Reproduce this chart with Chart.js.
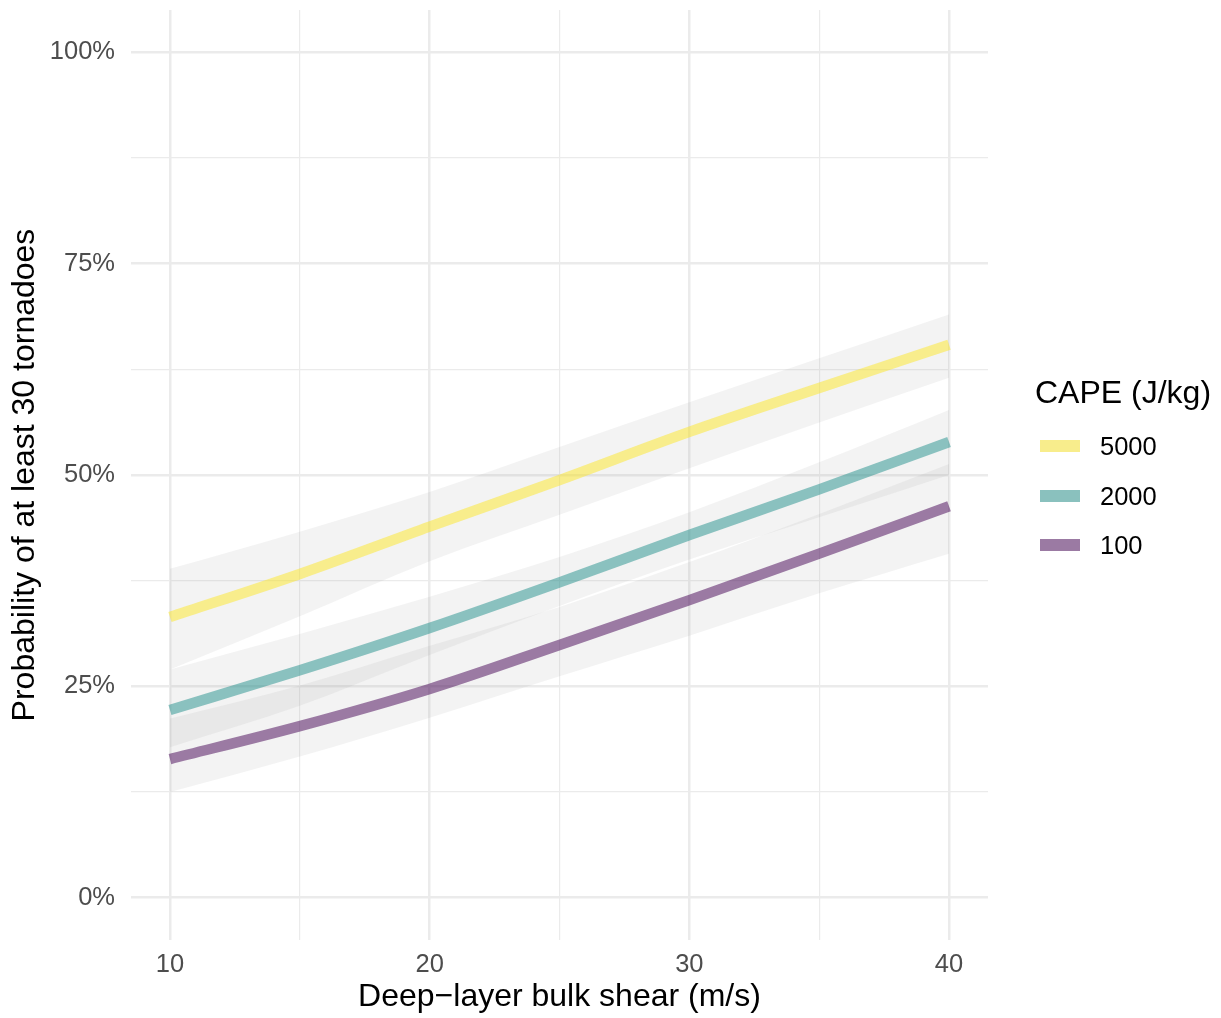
<!DOCTYPE html>
<html>
<head>
<meta charset="utf-8">
<script src="https://cdn.jsdelivr.net/npm/chart.js@4/dist/chart.umd.min.js"></script>
<style>
  html, body { margin: 0; padding: 0; background: #fff; }
  #wrap { position: relative; width: 1221px; height: 1018px; font-family: "Liberation Sans", Arial, sans-serif; }
  canvas { position: absolute; left: 0; top: 0; }
  #legend { position: absolute; left: 1035px; top: 372px; }
  #legend .title { font-size: 32px; color: #000; line-height: 40px; margin-bottom: 26px; }
  #legend .row { position: relative; height: 49.5px; }
  #legend .key { position: absolute; left: 5px; top: 2px; width: 40px; height: 12px; }
  #legend .lab { position: absolute; left: 65px; top: -7px; font-size: 25.5px; color: #000; line-height: 30px; }
</style>
</head>
<body>
<div id="wrap">
  <canvas id="c" width="1221" height="1018"></canvas>
  <div id="legend"></div>
</div>
<script>
// ---- data ----
const shear = [10, 15, 20, 25, 30, 35, 40];
const capeLevels = ["5000", "2000", "100"];
const prob5000 = [33.2, 38.3, 43.9, 49.4, 55.1, 60.3, 65.4];
const lo5000   = [27.0, 33.3, 39.8, 45.3, 50.8, 56.2, 61.5];
const hi5000   = [38.9, 43.3, 48.0, 53.3, 58.6, 63.8, 69.0];
const prob2000 = [22.2, 26.9, 31.9, 37.3, 42.9, 48.3, 53.9];
const lo2000   = [17.8, 22.7, 28.7, 34.5, 40.0, 45.0, 50.0];
const hi2000   = [27.0, 31.2, 35.6, 40.3, 45.6, 51.5, 57.7];
const prob100  = [16.4, 20.3, 24.7, 29.9, 35.2, 40.7, 46.3];
const lo100    = [12.5, 16.7, 21.3, 26.2, 31.0, 36.0, 40.7];
const hi100    = [21.2, 25.1, 29.8, 34.4, 39.7, 45.4, 51.3];
const xTicks = [10, 15, 20, 25, 30, 35, 40];
const xTickLabels = {10: "10", 20: "20", 30: "30", 40: "40"};
const yTicks = [0, 12.5, 25, 37.5, 50, 62.5, 75, 87.5, 100];
const yTickLabels = {0: "0%", 25: "25%", 50: "50%", 75: "75%", 100: "100%"};

// ---- styling ----
const lineColors = ["rgba(253,231,37,0.5)", "rgba(33,144,140,0.5)", "rgba(68,1,84,0.5)"];
const legendColors = ["#f8ed8c", "#8ac1be", "#9b7aa3"];
const ribbonColor = "rgba(153,153,153,0.12)";
const FONT = "'Liberation Sans', Arial, sans-serif";

const pts = (ys) => shear.map((x, i) => ({x: x, y: ys[i]}));
const probs = [prob5000, prob2000, prob100];
const los = [lo5000, lo2000, lo100];
const his = [hi5000, hi2000, hi100];

const datasets = [];
capeLevels.forEach((lv, k) => {
  datasets.push({
    label: lv, data: pts(probs[k]), borderColor: lineColors[k], borderWidth: 10.5,
    pointRadius: 0, fill: false, cubicInterpolationMode: "monotone", order: 0, borderCapStyle: "butt"
  });
});
capeLevels.forEach((lv, k) => {
  const idx = datasets.length;
  datasets.push({
    label: "hi" + lv, data: pts(his[k]), borderWidth: 0, pointRadius: 0,
    backgroundColor: ribbonColor, fill: idx + 1, cubicInterpolationMode: "monotone", order: 1
  });
  datasets.push({
    label: "lo" + lv, data: pts(los[k]), borderWidth: 0, pointRadius: 0,
    fill: false, cubicInterpolationMode: "monotone", order: 1
  });
});

const gridColor = "#ebebeb";

new Chart(document.getElementById("c"), {
  type: "line",
  data: { datasets: datasets },
  options: {
    responsive: false,
    animation: false,
    layout: { padding: { left: 0, right: 233, top: 10, bottom: 0 } },
    plugins: { legend: { display: false }, tooltip: { enabled: false } },
    scales: {
      x: {
        type: "linear", min: 8.5, max: 41.5,
        afterBuildTicks: (s) => { s.ticks = xTicks.map(v => ({value: v})); },
        afterFit: (s) => { s.height = 78; s.paddingLeft = 0; s.paddingRight = 0; },
        border: { display: false },
        grid: {
          drawTicks: false,
          color: gridColor,
          lineWidth: (ctx) => (xTickLabels[ctx.tick && ctx.tick.value] ? 2.5 : 1.2)
        },
        ticks: {
          padding: 10, color: "#4d4d4d", font: { family: FONT, size: 25.5 },
          maxRotation: 0, autoSkip: false,
          callback: (v) => xTickLabels[v] || ""
        },
        title: {
          display: true, text: "Deep\u2212layer bulk shear (m/s)", color: "#000",
          font: { family: FONT, size: 32 }, padding: { top: 0, bottom: 2 }
        }
      },
      y: {
        type: "linear", min: -5, max: 105,
        afterBuildTicks: (s) => { s.ticks = yTicks.map(v => ({value: v})); },
        afterFit: (s) => { s.width = 131; s.paddingTop = 0; s.paddingBottom = 0; },
        border: { display: false },
        grid: {
          drawTicks: false,
          color: gridColor,
          lineWidth: (ctx) => (yTickLabels[ctx.tick && ctx.tick.value] ? 2.5 : 1.2)
        },
        ticks: {
          padding: 16, color: "#4d4d4d", font: { family: FONT, size: 25.5 },
          autoSkip: false,
          callback: (v) => yTickLabels[v] || ""
        },
        title: {
          display: true, text: "Probability of at least 30 tornadoes", color: "#000",
          font: { family: FONT, size: 32 }, padding: { top: 6, bottom: 0 }
        }
      }
    }
  }
});

// ---- legend ----
const lg = document.getElementById("legend");
let html = '<div class="title">CAPE (J/kg)</div>';
capeLevels.forEach((lv, k) => {
  html += '<div class="row"><div class="key" style="background:' + legendColors[k] + '"></div><div class="lab">' + lv + '</div></div>';
});
lg.innerHTML = html;
</script>
</body>
</html>
